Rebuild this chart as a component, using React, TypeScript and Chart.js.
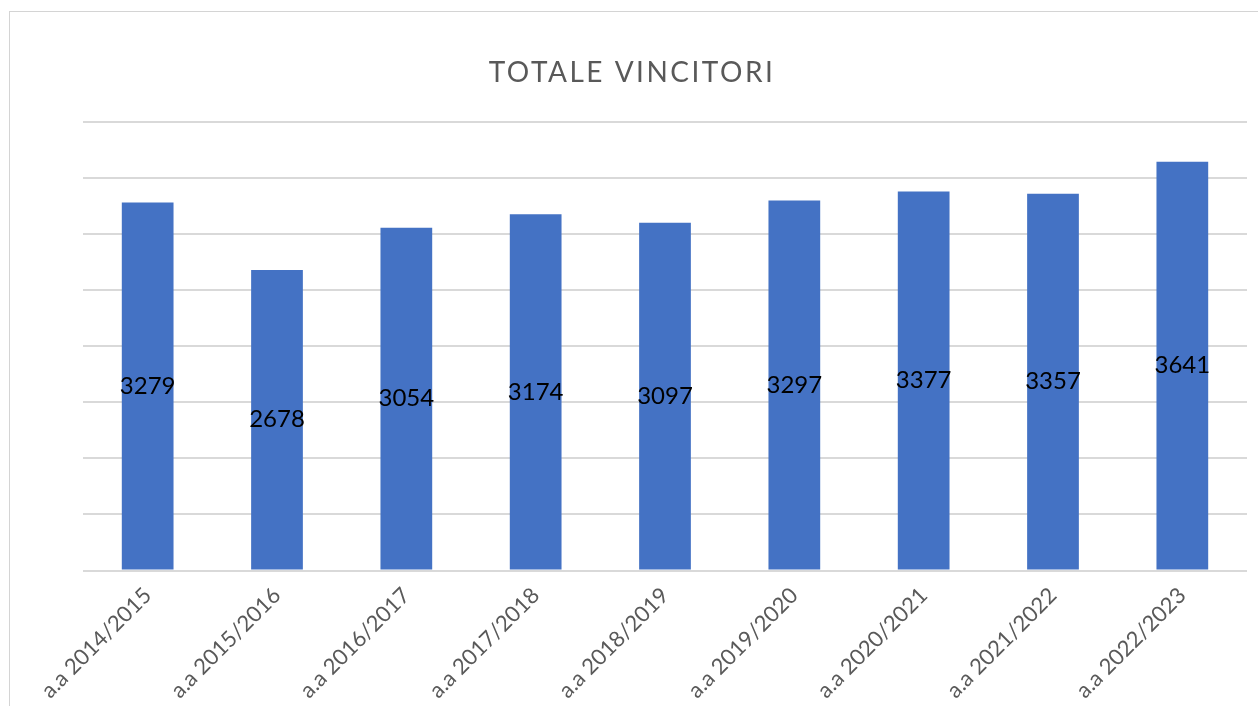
import React, { useEffect, useRef } from "react";
import { Chart, registerables } from "chart.js";

Chart.register(...registerables);

const categories = [
  "a.a 2014/2015",
  "a.a 2015/2016",
  "a.a 2016/2017",
  "a.a 2017/2018",
  "a.a 2018/2019",
  "a.a 2019/2020",
  "a.a 2020/2021",
  "a.a 2021/2022",
  "a.a 2022/2023",
];
const vincitori = [3279, 2678, 3054, 3174, 3097, 3297, 3377, 3357, 3641];
const titleText = "TOTALE VINCITORI";

const FONT = "Lato, 'Open Sans', sans-serif";

const centerLabels = {
  id: "centerLabels",
  afterDatasetsDraw(chart: any) {
    const ctx = chart.ctx;
    const meta = chart.getDatasetMeta(0);
    const data = chart.data.datasets[0].data;
    ctx.save();
    ctx.fillStyle = "#000000";
    ctx.font = `24px ${FONT}`;
    ctx.textAlign = "center";
    ctx.textBaseline = "middle";
    meta.data.forEach((el: any, i: number) => {
      const { x, y, base } = el.getProps(["x", "y", "base"], true);
      ctx.fillText(String(data[i]), x, (y + base) / 2);
    });
    ctx.restore();
  },
};

const spacedTitle = {
  id: "spacedTitle",
  afterDraw(chart: any) {
    const ctx = chart.ctx;
    ctx.save();
    ctx.fillStyle = "#595959";
    ctx.font = `28px ${FONT}`;
    (ctx as any).letterSpacing = "2.5px";
    ctx.textAlign = "center";
    ctx.textBaseline = "middle";
    ctx.fillText(titleText, 632, 73);
    ctx.restore();
  },
};

export default function App() {
  const ref = useRef<HTMLCanvasElement>(null);
  useEffect(() => {
    if (!ref.current) return;
    const chart = new Chart(ref.current, {
      type: "bar",
      data: {
        labels: categories,
        datasets: [
          {
            data: vincitori,
            backgroundColor: "#4472C4",
            barPercentage: 0.4,
            categoryPercentage: 1,
          },
        ],
      },
      options: {
        animation: false,
        responsive: false,
        maintainAspectRatio: false,
        layout: { padding: { left: 83, right: 11, top: 121.5, bottom: 0 } },
        plugins: {
          legend: { display: false },
          tooltip: { enabled: false },
          title: { display: false },
        },
        scales: {
          x: {
            grid: { display: false },
            border: { display: false },
            ticks: {
              color: "#595959",
              font: { family: FONT, size: 22 },
              minRotation: 45,
              maxRotation: 45,
              padding: 4,
            },
            afterFit(scale: any) {
              scale.height = 135.5;
            },
          },
          y: {
            min: 0,
            max: 4000,
            ticks: { display: false, stepSize: 500 },
            border: { display: false },
            grid: { color: "#d9d9d9", lineWidth: 2, drawTicks: false },
            afterFit(scale: any) {
              scale.width = 0;
            },
          },
        },
      },
      plugins: [centerLabels, spacedTitle],
    });
    return () => chart.destroy();
  }, []);
  return (
    <div
      style={{
        position: "fixed",
        left: 0,
        top: 0,
        width: 1258,
        height: 706,
        overflow: "hidden",
        background: "#ffffff",
      }}
    >
      <div
        style={{
          position: "absolute",
          left: 9,
          top: 11,
          width: 1400,
          height: 900,
          border: "1px solid #d4d4d4",
        }}
      />
      <canvas
        ref={ref}
        width={1258}
        height={706}
        style={{ position: "absolute", left: 0, top: 0, width: 1258, height: 706 }}
      />
    </div>
  );
}
